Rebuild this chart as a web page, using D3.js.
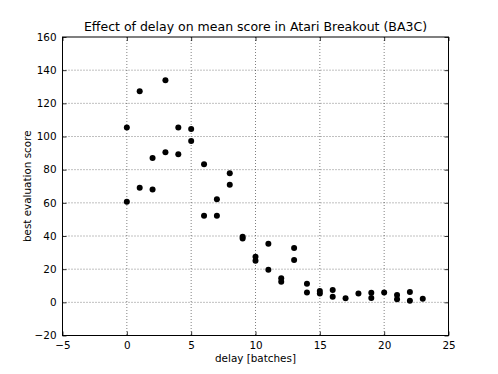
<!DOCTYPE html>
<html>
<head>
<meta charset="utf-8">
<script src="https://cdn.jsdelivr.net/npm/d3@7"></script>
<style>
  body { margin: 0; background: #fff; }
  svg { font-family: "DejaVu Sans", sans-serif; }
</style>
</head>
<body>
<div id="chart"></div>
<script>
// delay [batches] and best evaluation score
const delays = [0, 0, 1, 1, 2, 2, 3, 3, 4, 4, 5, 5, 6, 6, 7, 7, 8, 8, 9, 9, 10, 10,
  11, 11, 12, 12, 13, 13, 14, 14, 15, 15, 16, 16, 17, 18, 19, 19, 20, 21, 21, 22, 22, 23];
const scores = [105.5, 60.7, 127.3, 69.1, 87, 68.1, 133.9, 90.5, 105.5, 89.3, 104.5, 97.3,
  83.2, 52.2, 62.1, 52.2, 77.8, 70.9, 39.5, 38.5, 27.5, 25.1,
  35.3, 19.7, 14.5, 12.4, 32.7, 25.5, 11.2, 6.0, 6.8, 5.4, 7.4, 3.4, 2.4, 5.4, 5.8, 2.6,
  6.0, 4.4, 1.8, 6.2, 1.0, 2.2];
const xTicks = [-5, 0, 5, 10, 15, 20, 25];
const yTicks = [-20, 0, 20, 40, 60, 80, 100, 120, 140, 160];

const width = 498, height = 374;
const margin = { top: 37, right: 49.5, bottom: 38.5, left: 62.5 };
const iw = width - margin.left - margin.right;
const ih = height - margin.top - margin.bottom;

const svg = d3.select("#chart").append("svg")
  .attr("width", width).attr("height", height);

const x = d3.scaleLinear().domain([-5, 25]).range([0, iw]);
const y = d3.scaleLinear().domain([-20, 160]).range([ih, 0]);

const g = svg.append("g").attr("transform", `translate(${margin.left},${margin.top})`);

const fmt = d => String(d).replace("-", "\u2212");

// grid
g.append("g").selectAll("line").data(xTicks.slice(1, -1)).join("line")
  .attr("x1", d => x(d)).attr("x2", d => x(d)).attr("y1", 0).attr("y2", ih)
  .attr("stroke", "#000").attr("stroke-width", 0.5).attr("stroke-dasharray", "1,2");
g.append("g").selectAll("line").data(yTicks.slice(1, -1)).join("line")
  .attr("y1", d => y(d)).attr("y2", d => y(d)).attr("x1", 0).attr("x2", iw)
  .attr("stroke", "#000").attr("stroke-width", 0.5).attr("stroke-dasharray", "1,2");

// axes, ticks pointing inward on all sides
g.append("g").attr("transform", `translate(0,${ih})`)
  .call(d3.axisBottom(x).tickValues(xTicks).tickSize(-4).tickPadding(6).tickFormat(fmt));
g.append("g")
  .call(d3.axisLeft(y).tickValues(yTicks).tickSize(-4).tickPadding(6).tickFormat(fmt));
g.append("g").call(d3.axisTop(x).tickValues(xTicks).tickSize(-4).tickFormat(""));
g.append("g").attr("transform", `translate(${iw},0)`)
  .call(d3.axisRight(y).tickValues(yTicks).tickSize(-4).tickFormat(""));

g.selectAll(".domain").remove();
g.selectAll(".tick line").attr("stroke", "#000").attr("stroke-width", 0.8);
g.selectAll(".tick text").attr("font-size", "10.4px").attr("fill", "#000")
  .attr("font-family", "DejaVu Sans");

g.append("rect").attr("width", iw).attr("height", ih)
  .attr("fill", "none").attr("stroke", "#000").attr("stroke-width", 1);

// points
g.append("g").selectAll("circle").data(delays).join("circle")
  .attr("cx", d => x(d)).attr("cy", (d, i) => y(scores[i]))
  .attr("r", 3).attr("fill", "#000");

// labels
svg.append("text").attr("x", margin.left + iw / 2).attr("y", 31)
  .attr("text-anchor", "middle").attr("font-size", "12.5px")
  .text("Effect of delay on mean score in Atari Breakout (BA3C)");
svg.append("text").attr("x", margin.left + iw / 2).attr("y", 362)
  .attr("text-anchor", "middle").attr("font-size", "10.4px")
  .text("delay [batches]");
svg.append("text").attr("transform", `translate(31,${margin.top + ih / 2}) rotate(-90)`)
  .attr("text-anchor", "middle").attr("font-size", "10.4px")
  .text("best evaluation score");
</script>
</body>
</html>
